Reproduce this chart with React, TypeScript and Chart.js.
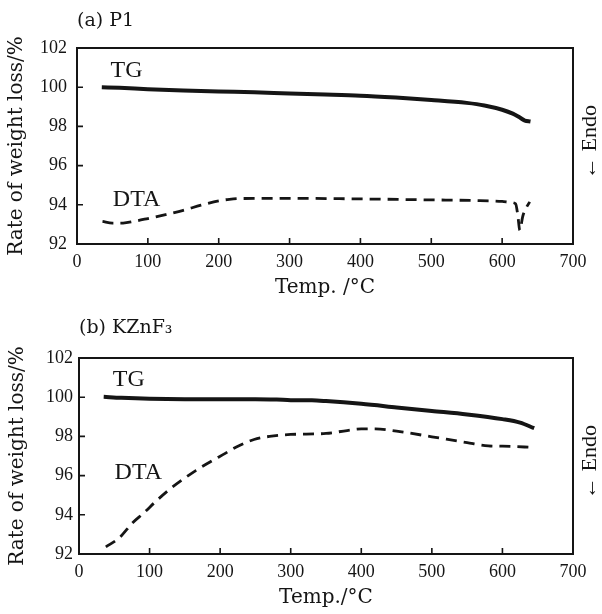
import React, { useEffect, useRef } from "react";
import { Chart, registerables } from "chart.js";

Chart.register(...registerables);

// ---------- data ----------
const xTickValues = [0, 100, 200, 300, 400, 500, 600, 700];
const yTickValues = [92, 94, 96, 98, 100, 102];

// (a) P1
const tempTG_A = [35, 60, 100, 150, 200, 250, 300, 350, 400, 450, 500, 550, 575, 600, 615, 625, 632, 640];
const valTG_A = [100.0, 99.97, 99.9, 99.83, 99.78, 99.74, 99.68, 99.63, 99.57, 99.47, 99.35, 99.2, 99.07, 98.85, 98.65, 98.45, 98.3, 98.25];
const tempDTA_A = [36, 50, 65, 80, 100, 125, 150, 175, 200, 215, 230, 300, 400, 500, 560, 600, 612, 619, 622, 625, 629, 634, 639];
const valDTA_A = [93.15, 93.07, 93.07, 93.15, 93.3, 93.5, 93.72, 93.98, 94.2, 94.28, 94.32, 94.33, 94.3, 94.25, 94.22, 94.17, 94.12, 94.05, 93.5, 92.7, 93.4, 93.85, 94.15];

// (b) KZnF3
const tempTG_B = [35, 60, 100, 150, 200, 250, 280, 300, 330, 350, 400, 450, 500, 550, 600, 625, 645];
const valTG_B = [100.02, 99.97, 99.92, 99.9, 99.9, 99.9, 99.88, 99.85, 99.84, 99.8, 99.66, 99.48, 99.3, 99.12, 98.88, 98.7, 98.42];
const tempDTA_B = [38, 57, 76, 92, 109, 128, 147, 166, 185, 204, 223, 248, 270, 300, 350, 380, 400, 420, 450, 500, 550, 580, 600, 645];
const valDTA_B = [92.36, 92.82, 93.59, 94.1, 94.69, 95.29, 95.8, 96.27, 96.68, 97.07, 97.46, 97.84, 98.0, 98.1, 98.15, 98.3, 98.38, 98.38, 98.27, 97.98, 97.68, 97.52, 97.5, 97.44];

// ---------- text ----------
const titleA = "(a) P1";
const titleB = "(b) KZnF\u2083";
const xTitleA = "Temp. /\u00B0C";
const xTitleB = "Temp./\u00B0C";
const yTitle = "Rate of weight loss/%";
const endoText = "\u2190 Endo";
const tgText = "TG";
const dtaText = "DTA";

const TICK_FONT = "'Liberation Serif', 'Times New Roman', serif";
const TITLE_FONT = "'DejaVu Serif', serif";
const INK = "#151515";

const toPoints = (xs: number[], ys: number[]) => xs.map((x, i) => ({ x, y: ys[i] }));

const framePlugin = {
  id: "frameDeco",
  afterDatasetsDraw(chart: any, _args: any, opts: any) {
    const { ctx, chartArea, scales } = chart;
    const { left, right, top, bottom } = chartArea;
    const xs = scales.x;
    const ys = scales.y;
    ctx.save();
    ctx.strokeStyle = INK;
    ctx.lineWidth = 2;
    ctx.strokeRect(left, top, right - left, bottom - top);
    ctx.lineWidth = 1.6;
    ctx.beginPath();
    xs.ticks.forEach((t: any) => {
      if (t.value > xs.min && t.value < xs.max) {
        const px = xs.getPixelForValue(t.value);
        ctx.moveTo(px, bottom);
        ctx.lineTo(px, bottom - 6);
      }
    });
    ys.ticks.forEach((t: any) => {
      if (t.value > ys.min && t.value < ys.max) {
        const py = ys.getPixelForValue(t.value);
        ctx.moveTo(left, py);
        ctx.lineTo(left + 6, py);
      }
    });
    ctx.stroke();

    ctx.fillStyle = INK;
    ctx.textAlign = "center";
    ctx.textBaseline = "middle";
    (opts.labels || []).forEach((l: any) => {
      ctx.font = `${l.size}px ${TICK_FONT}`;
      ctx.fillText(l.text, xs.getPixelForValue(l.x), ys.getPixelForValue(l.y));
    });

    if (opts.endo) {
      ctx.save();
      ctx.translate(opts.endo.px, (top + bottom) / 2 + opts.endo.dy);
      ctx.rotate(-Math.PI / 2);
      ctx.font = `22px ${TICK_FONT}`;
      ctx.fillText(opts.endo.text, 0, 0);
      ctx.restore();
    }
    ctx.restore();
  },
};

type PanelProps = {
  title: string;
  xTitle: string;
  tgX: number[];
  tgY: number[];
  dtaX: number[];
  dtaY: number[];
  labels: { text: string; x: number; y: number; size: number }[];
  yAxisWidth: number;
  xAxisHeight: number;
  padRight: number;
  titleTop: number;
  titleBottom: number;
  yTickPad: number;
  yTitlePad: number;
  xTitlePad: number;
  endoDy: number;
  top: number;
};

function Panel(p: PanelProps) {
  const ref = useRef<HTMLCanvasElement | null>(null);
  useEffect(() => {
    if (!ref.current) return;
    const chart = new Chart(ref.current, {
      type: "line",
      data: {
        datasets: [
          {
            label: tgText,
            data: toPoints(p.tgX, p.tgY),
            borderColor: INK,
            borderWidth: 4,
            pointRadius: 0,
            fill: false,
            cubicInterpolationMode: "monotone",
          },
          {
            label: dtaText,
            data: toPoints(p.dtaX, p.dtaY),
            borderColor: INK,
            borderWidth: 2.8,
            borderDash: [11, 7],
            pointRadius: 0,
            fill: false,
            cubicInterpolationMode: "monotone",
          },
        ],
      },
      options: {
        animation: false,
        responsive: false,
        maintainAspectRatio: false,
        layout: { padding: { left: 0, top: 0, right: p.padRight, bottom: 0 } },
        plugins: {
          legend: { display: false },
          tooltip: { enabled: false },
          title: {
            display: true,
            text: p.title,
            align: "start",
            fullSize: false,
            color: INK,
            font: { family: TITLE_FONT, size: 19, weight: "normal" },
            padding: { top: p.titleTop, bottom: p.titleBottom },
          },
          frameDeco: {
            labels: p.labels,
            endo: { text: endoText, px: 590, dy: p.endoDy },
          },
        } as any,
        scales: {
          x: {
            type: "linear",
            min: 0,
            max: 700,
            afterBuildTicks: (s: any) => {
              s.ticks = xTickValues.map((v) => ({ value: v }));
            },
            afterFit: (s: any) => {
              s.height = p.xAxisHeight;
            },
            grid: { display: false, drawTicks: false },
            border: { display: false },
            ticks: {
              color: INK,
              padding: 7,
              maxRotation: 0,
              font: { family: TICK_FONT, size: 18 },
            },
            title: {
              display: true,
              text: p.xTitle,
              color: INK,
              font: { family: TITLE_FONT, size: 20 },
              padding: { top: 0, bottom: p.xTitlePad },
            },
          },
          y: {
            type: "linear",
            min: 92,
            max: 102,
            afterBuildTicks: (s: any) => {
              s.ticks = yTickValues.map((v) => ({ value: v }));
            },
            afterFit: (s: any) => {
              s.width = p.yAxisWidth;
            },
            grid: { display: false, drawTicks: false },
            border: { display: false },
            ticks: {
              color: INK,
              padding: p.yTickPad,
              font: { family: TICK_FONT, size: 18 },
            },
            title: {
              display: true,
              text: yTitle,
              color: INK,
              font: { family: TITLE_FONT, size: 20 },
              padding: { top: p.yTitlePad, bottom: 0 },
            },
          },
        },
      },
      plugins: [framePlugin],
    } as any);
    return () => chart.destroy();
  }, []);
  return (
    <div style={{ position: "absolute", left: 0, top: p.top, width: 602, height: 307 }}>
      <canvas ref={ref} width={602} height={307} style={{ width: 602, height: 307, display: "block" }} />
    </div>
  );
}

export default function App() {
  return (
    <div style={{ position: "absolute", left: 0, top: 0, width: 602, height: 614, background: "#fff" }}>
      <Panel
        title={titleA}
        xTitle={xTitleA}
        tgX={tempTG_A}
        tgY={valTG_A}
        dtaX={tempDTA_A}
        dtaY={valDTA_A}
        labels={[
          { text: tgText, x: 70, y: 100.84, size: 24 },
          { text: dtaText, x: 84, y: 94.28, size: 24 },
        ]}
        yAxisWidth={77}
        xAxisHeight={63}
        padRight={29}
        titleTop={9.2}
        titleBottom={16}
        yTickPad={10}
        yTitlePad={5}
        xTitlePad={7}
        endoDy={-4}
        top={0}
      />
      <Panel
        title={titleB}
        xTitle={xTitleB}
        tgX={tempTG_B}
        tgY={valTG_B}
        dtaX={tempDTA_B}
        dtaY={valDTA_B}
        labels={[
          { text: tgText, x: 70.6, y: 100.9, size: 24 },
          { text: dtaText, x: 84, y: 96.13, size: 24 },
        ]}
        yAxisWidth={79}
        xAxisHeight={60}
        padRight={29}
        titleTop={9.2}
        titleBottom={19}
        yTickPad={6}
        yTitlePad={6}
        xTitlePad={4}
        endoDy={6}
        top={307}
      />
    </div>
  );
}
